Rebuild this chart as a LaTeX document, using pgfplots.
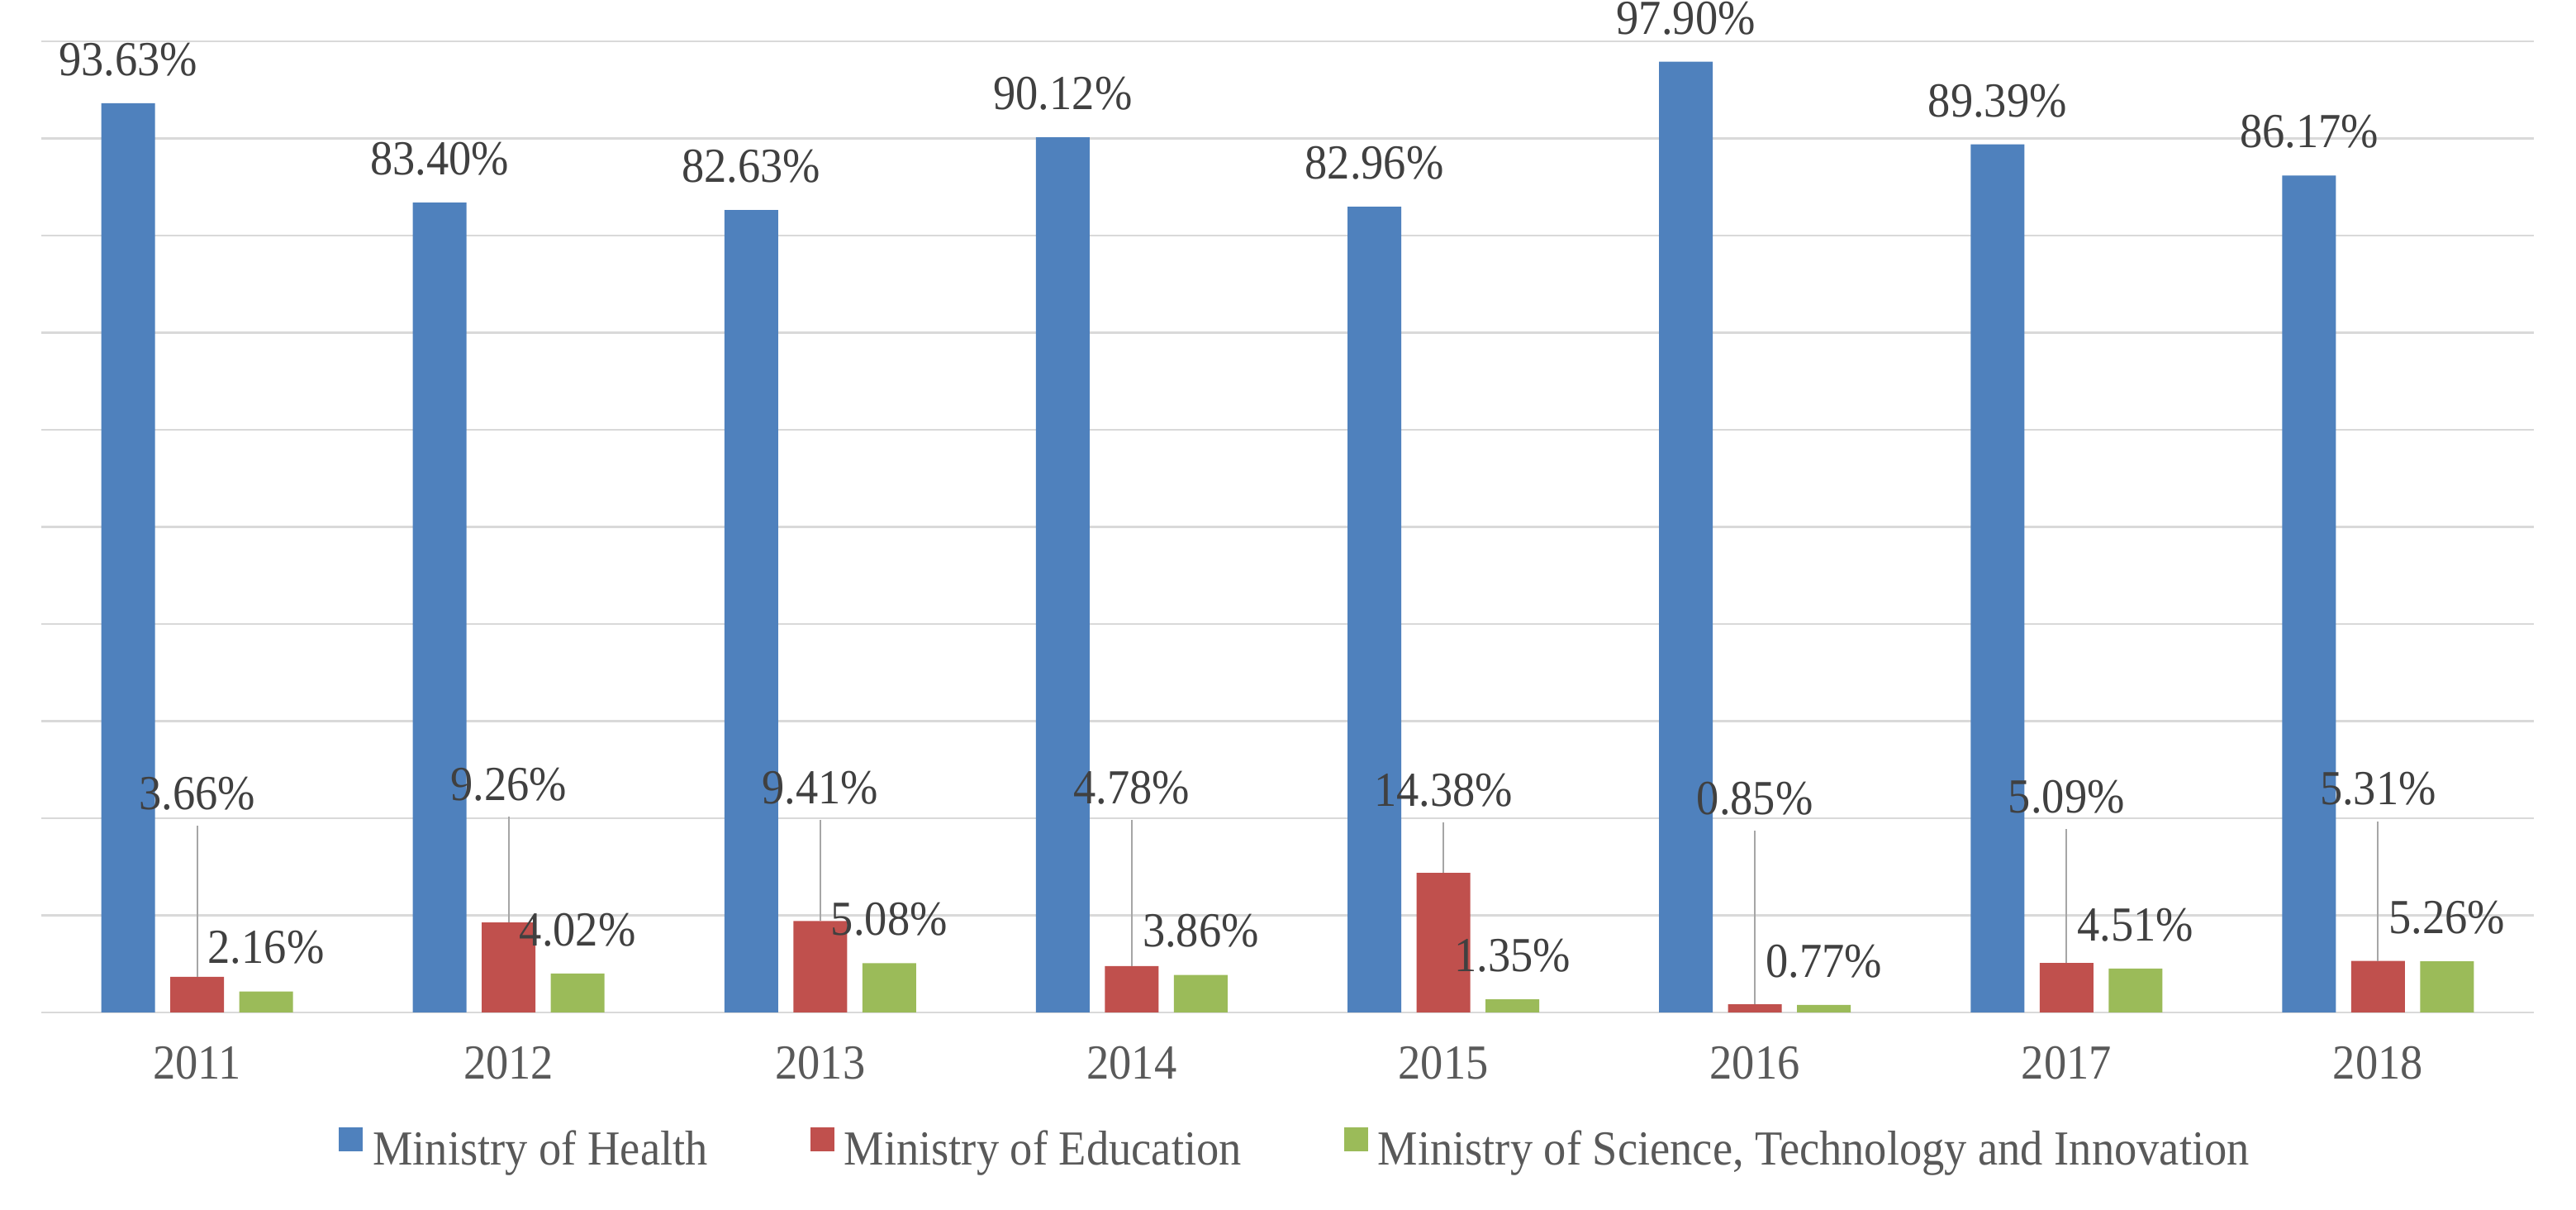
\documentclass[border=0pt]{standalone}
\usepackage{fontspec}
\setmainfont{Liberation Serif}[FakeStretch=0.92]
\usepackage{pgfplots}
\usepackage{pgfplotstable}
\pgfplotsset{compat=1.18}
\definecolor{cblue}{HTML}{4F81BD}
\definecolor{cred}{HTML}{C0504D}
\definecolor{cgreen}{HTML}{9BBB59}
\definecolor{gridgray}{HTML}{D9D9D9}
\definecolor{leadgray}{HTML}{A6A6A6}
\definecolor{labtext}{HTML}{404040}
\definecolor{ticktext}{HTML}{595959}
\newcommand\fs{\fontsize{14.8pt}{17pt}\selectfont}
% lab = baseline height of the Education callout label, ldr = length of its leader line
\pgfplotstableread{
x health edu sci lab ldr
0 93.63 3.66 2.16 20.77 15.54
1 83.40 9.26 4.02 21.70 10.87
2 82.63 9.41 5.08 21.36 10.38
3 90.12 4.78 3.86 21.36 15.01
4 82.96 14.38 1.35 21.11 5.16
5 97.90 0.85 0.77 20.26 17.84
6 89.39 5.09 4.51 20.43 13.77
7 86.17 5.31 5.26 21.23 14.35
}\data
\begin{document}
\begin{tikzpicture}
\begin{axis}[
  at={(0,0)}, anchor=south west,
  scale only axis, width=754.25pt, height=293.75pt,
  xmin=-0.5, xmax=7.5, ymin=0, ymax=100,
  clip=false,
  axis line style={draw=none},
  ytick={0,10,...,100}, yticklabels={},
  ymajorgrids, major grid style={draw=gridgray, line width=0.6pt},
  xtick={0,...,7}, xticklabels={2011,2012,2013,2014,2015,2016,2017,2018},
  major tick length=0pt,
  xticklabel style={anchor=base, yshift=-20.25pt, text=ticktext, font=\fs},
  /pgf/number format/assume math mode=true,
  legend columns=3,
  legend style={at={(0.5,0)}, anchor=center, yshift=-41.75pt, xshift=2pt,
    draw=none, fill=none, font=\fs, text=ticktext,
    nodes={inner xsep=0pt},
    /tikz/every odd column/.append style={column sep=3pt},
    /tikz/every even column/.append style={column sep=31pt}},
  legend cell align=left,
  legend image code/.code={\fill[#1] (0pt,-0.3pt) rectangle (7.25pt,6.95pt);},
]
\addplot[ybar, bar width=16.25pt, bar shift=-20.875pt, fill=cblue, draw=none,
  nodes near coords={\pgfmathprintnumber[fixed,fixed zerofill,precision=2]{\pgfplotspointmeta}\%},
  nodes near coords style={text=labtext, font=\fs, inner sep=0pt, anchor=south, yshift=8pt, xshift=-20.875pt}]
  table[x=x,y=health]{\data};
\addplot[ybar, bar width=16.25pt, bar shift=0pt, fill=cred, draw=none,
  error bars/.cd, y dir=plus, y explicit, error mark=none,
  error bar style={draw=leadgray, line width=0.5pt}]
  table[x=x, y=edu, y error plus=ldr]{\data};
\addplot[ybar, bar width=16.25pt, bar shift=20.875pt, fill=cgreen, draw=none,
  nodes near coords={\pgfmathprintnumber[fixed,fixed zerofill,precision=2]{\pgfplotspointmeta}\%},
  nodes near coords style={text=labtext, font=\fs, inner sep=0pt, anchor=south, yshift=8pt, xshift=20.875pt}]
  table[x=x,y=sci]{\data};
\addplot[draw=none, mark=none, forget plot, point meta=explicit,
  nodes near coords={\pgfmathprintnumber[fixed,fixed zerofill,precision=2]{\pgfplotspointmeta}\%},
  nodes near coords style={text=labtext, font=\fs, inner sep=0pt, anchor=south}]
  table[x=x, y=lab, meta=edu]{\data};
\legend{Ministry of Health, Ministry of Education, {Ministry of Science, Technology and Innovation}}
\end{axis}
\pgfresetboundingbox
\useasboundingbox (-12.5pt,-59.75pt) rectangle (767pt,306.25pt);
\end{tikzpicture}
\end{document}
